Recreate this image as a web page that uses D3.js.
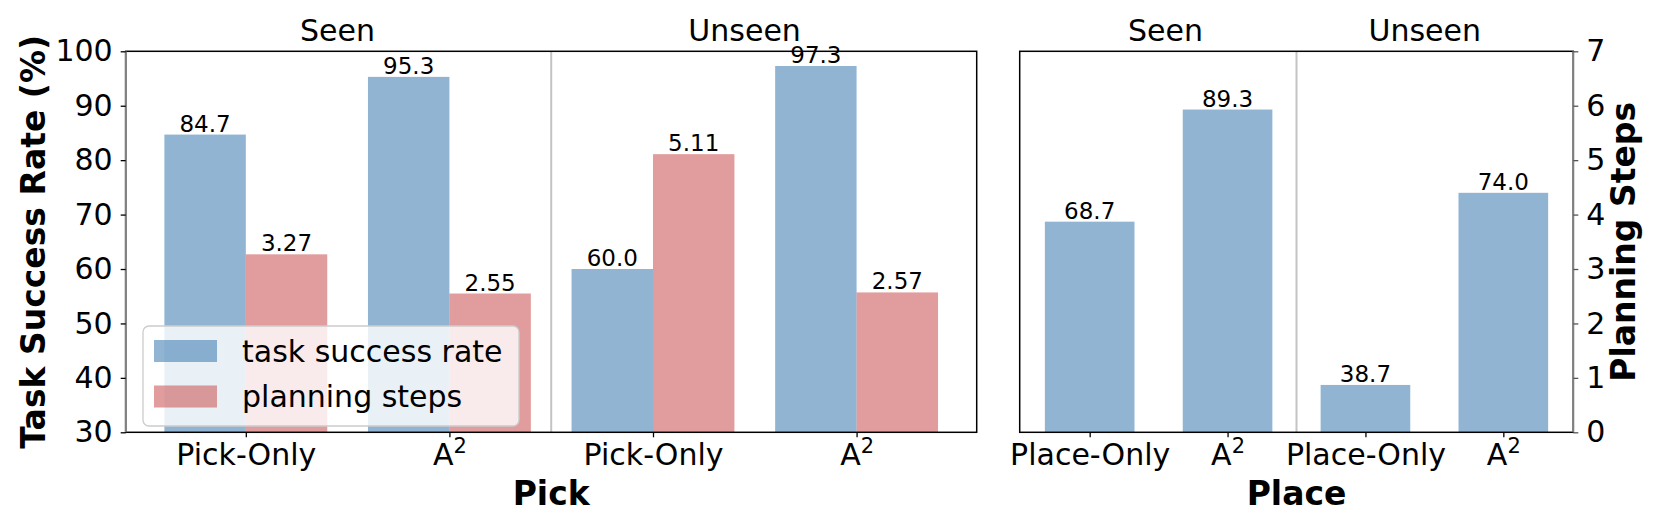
<!DOCTYPE html>
<html>
<head>
<meta charset="utf-8">
<script src="https://cdn.jsdelivr.net/npm/d3@7"></script>
<style>
  body { margin: 0; background: #fff; }
  svg { display: block; font-family: "DejaVu Sans", sans-serif; }
</style>
</head>
<body>
<div id="chart"></div>
<script>
// data
var splits = ["Seen", "Unseen"];
var pickCategories = ["Pick-Only", "A²", "Pick-Only", "A²"];
var pickSuccess = [84.7, 95.3, 60.0, 97.3];
var pickSteps = [3.27, 2.55, 5.11, 2.57];
var placeCategories = ["Place-Only", "A²", "Place-Only", "A²"];
var placeSuccess = [68.7, 89.3, 38.7, 74.0];
var rateTicks = [30, 40, 50, 60, 70, 80, 90, 100];
var stepTicks = [0, 1, 2, 3, 4, 5, 6, 7];
var seriesNames = ["task success rate", "planning steps"];

var width = 1660, height = 529;
var plotTop = 51.3, plotBottom = 432.3;
var panels = {
  pick: {x0: 125.7, x1: 976.7, barW: 0.4, titleAt: [0.45, 2.45]},
  place: {x0: 1019.7, x1: 1573.3, barW: 0.65, titleAt: [0.55, 2.43]}
};
var blue = "steelblue", red = "indianred";

var svg = d3.select("#chart").append("svg")
    .attr("width", width)
    .attr("height", height);

var yRate = d3.scaleLinear().domain([30, 100]).range([plotBottom, plotTop]);
var ySteps = d3.scaleLinear().domain([0, 7]).range([plotBottom, plotTop]);

// matplotlib style x range: bar extent plus 5% margin each side
function xScale(n, halfExtent, p) {
  var lo = -halfExtent, hi = n - 1 + halfExtent, m = (hi - lo) * 0.05;
  return d3.scaleLinear().domain([lo - m, hi + m]).range([p.x0, p.x1]);
}

var xPick = xScale(pickCategories.length, panels.pick.barW, panels.pick);
var xPlace = xScale(placeCategories.length, panels.place.barW / 2, panels.place);

function drawLabel(sel) {
  sel.each(function (d) {
    var t = d3.select(this);
    t.text(null);
    if (d.slice(-1) === "²") {
      t.append("tspan").text(d.slice(0, -1));
      t.append("tspan").attr("font-size", "0.7em").attr("dy", "-0.55em").text("2");
    } else {
      t.text(d);
    }
  });
}

// ----- pick panel -----
var gPick = svg.append("g");

gPick.selectAll(".bar-rate").data(pickSuccess).enter().append("rect")
    .attr("class", "bar-rate")
    .attr("x", function (d, i) { return xPick(i - 0.4); })
    .attr("width", function (d, i) { return xPick(i) - xPick(i - 0.4); })
    .attr("y", function (d) { return yRate(d); })
    .attr("height", function (d) { return yRate(30) - yRate(d); })
    .style("fill", blue).style("fill-opacity", 0.6);

gPick.selectAll(".bar-steps").data(pickSteps).enter().append("rect")
    .attr("class", "bar-steps")
    .attr("x", function (d, i) { return xPick(i); })
    .attr("width", function (d, i) { return xPick(i + 0.4) - xPick(i); })
    .attr("y", function (d) { return ySteps(d); })
    .attr("height", function (d) { return ySteps(0) - ySteps(d); })
    .style("fill", red).style("fill-opacity", 0.6);

gPick.selectAll(".lbl-rate").data(pickSuccess).enter().append("text")
    .attr("x", function (d, i) { return xPick(i - 0.2); })
    .attr("y", function (d) { return yRate(d) - 3; })
    .attr("text-anchor", "middle").attr("font-size", 23)
    .text(d3.format(".1f"));

gPick.selectAll(".lbl-steps").data(pickSteps).enter().append("text")
    .attr("x", function (d, i) { return xPick(i + 0.2); })
    .attr("y", function (d) { return ySteps(d) - 3; })
    .attr("text-anchor", "middle").attr("font-size", 23)
    .text(d3.format(".2f"));

// ----- place panel -----
var gPlace = svg.append("g");
var hw = panels.place.barW / 2;

gPlace.selectAll(".bar-rate").data(placeSuccess).enter().append("rect")
    .attr("x", function (d, i) { return xPlace(i - hw); })
    .attr("width", function (d, i) { return xPlace(i + hw) - xPlace(i - hw); })
    .attr("y", function (d) { return yRate(d); })
    .attr("height", function (d) { return yRate(30) - yRate(d); })
    .style("fill", blue).style("fill-opacity", 0.6);

gPlace.selectAll(".lbl-rate").data(placeSuccess).enter().append("text")
    .attr("x", function (d, i) { return xPlace(i); })
    .attr("y", function (d) { return yRate(d) - 3; })
    .attr("text-anchor", "middle").attr("font-size", 23)
    .text(d3.format(".1f"));

// separators, frames, titles, x axes
[[gPick, xPick, pickCategories, panels.pick, "Pick"],
 [gPlace, xPlace, placeCategories, panels.place, "Place"]].forEach(function (p) {
  var g = p[0], x = p[1], cats = p[2], cfg = p[3];

  g.append("line")
      .attr("x1", x(1.5)).attr("x2", x(1.5))
      .attr("y1", plotTop).attr("y2", plotBottom)
      .style("stroke", "#c4c4c4").style("stroke-width", 2);

  g.append("rect")
      .attr("x", cfg.x0).attr("y", plotTop)
      .attr("width", cfg.x1 - cfg.x0).attr("height", plotBottom - plotTop)
      .style("fill", "none").style("stroke", "#000").style("stroke-width", 1.5);

  var xAxis = d3.axisBottom(x)
      .tickValues(d3.range(cats.length))
      .tickSize(5).tickPadding(6)
      .tickFormat(function (i) { return cats[i]; });

  var gx = g.append("g")
      .attr("transform", "translate(0," + plotBottom + ")")
      .call(xAxis);
  gx.select(".domain").remove();
  gx.selectAll(".tick line").style("stroke", "#000").style("stroke-width", 1.3);
  gx.selectAll(".tick text")
      .attr("font-size", 30).attr("font-family", "DejaVu Sans").style("fill", "#000")
      .data(cats).call(drawLabel);

  g.selectAll(".split").data(splits).enter().append("text")
      .attr("x", function (d, i) { return x(cfg.titleAt[i]); })
      .attr("y", 40.5)
      .attr("text-anchor", "middle").attr("font-size", 30)
      .text(function (d) { return d; });

  g.append("text")
      .attr("x", (cfg.x0 + cfg.x1) / 2).attr("y", 505)
      .attr("text-anchor", "middle").attr("font-size", 33).attr("font-weight", "bold")
      .text(p[4]);
});

// grey outer spines
svg.append("line")
    .attr("x1", panels.pick.x0).attr("x2", panels.pick.x0)
    .attr("y1", plotTop).attr("y2", plotBottom)
    .style("stroke", "#808080").style("stroke-width", 1.8);
svg.append("line")
    .attr("x1", panels.place.x1).attr("x2", panels.place.x1)
    .attr("y1", plotTop).attr("y2", plotBottom)
    .style("stroke", "#808080").style("stroke-width", 1.8);

// left y axis
var gyL = svg.append("g")
    .attr("transform", "translate(" + panels.pick.x0 + ",0)")
    .call(d3.axisLeft(yRate).tickValues(rateTicks).tickSize(5).tickPadding(8));
gyL.select(".domain").remove();
gyL.selectAll(".tick line").style("stroke", "#000").style("stroke-width", 1.3);
gyL.selectAll(".tick text").attr("font-size", 30).attr("font-family", "DejaVu Sans").style("fill", "#000");

// right y axis (planning steps)
var gyR = svg.append("g")
    .attr("transform", "translate(" + panels.place.x1 + ",0)")
    .call(d3.axisRight(ySteps).tickValues(stepTicks).tickFormat(d3.format("d"))
      .tickSize(5).tickPadding(8));
gyR.select(".domain").remove();
gyR.selectAll(".tick line").style("stroke", "#555").style("stroke-width", 1.3);
gyR.selectAll(".tick text").attr("font-size", 30).attr("font-family", "DejaVu Sans").style("fill", "#000");

svg.append("text")
    .attr("transform", "translate(44.6," + (plotTop + plotBottom) / 2 + ") rotate(-90)")
    .attr("text-anchor", "middle").attr("font-size", 33).attr("font-weight", "bold")
    .text("Task Success Rate (%)");

svg.append("text")
    .attr("transform", "translate(1635," + (plotTop + plotBottom) / 2 + ") rotate(-90)")
    .attr("text-anchor", "middle").attr("font-size", 33).attr("font-weight", "bold")
    .text("Planning Steps");

// legend
var legend = svg.append("g").attr("transform", "translate(143,326)");
legend.append("rect")
    .attr("width", 376).attr("height", 100).attr("rx", 6)
    .style("fill", "#fff").style("fill-opacity", 0.8)
    .style("stroke", "#cccccc").style("stroke-width", 1.3);
var items = legend.selectAll(".item").data(seriesNames).enter().append("g")
    .attr("transform", function (d, i) { return "translate(0," + (25 + i * 45.5) + ")"; });
items.append("rect")
    .attr("x", 11).attr("y", -11).attr("width", 63).attr("height", 22)
    .style("fill", function (d, i) { return i === 0 ? blue : red; })
    .style("fill-opacity", 0.6);
items.append("text")
    .attr("x", 99).attr("y", 10.5).attr("font-size", 30)
    .text(function (d) { return d; });
</script>
</body>
</html>
